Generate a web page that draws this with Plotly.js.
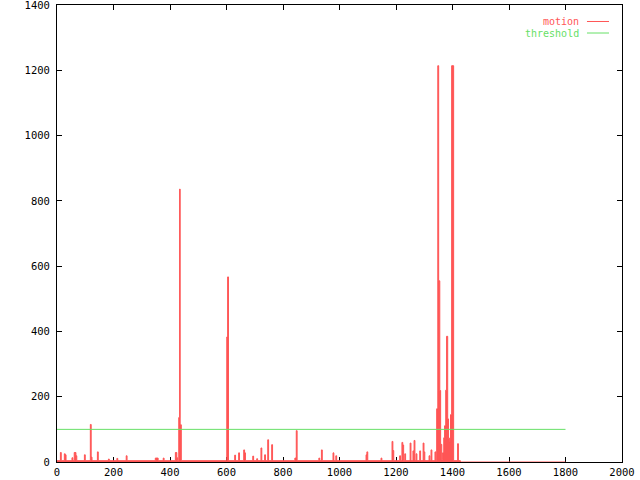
<!DOCTYPE html>
<html>
<head>
<meta charset="utf-8">
<script src="https://cdn.plot.ly/plotly-3.0.1.min.js"></script>
<style>html,body{margin:0;padding:0;background:#fff;}#chart{width:640px;height:480px;}</style>
</head>
<body>
<div id="chart"></div>
<script>
// motion: step data (frame where value starts, value)
var motionFrame = [0,12,15,26,29,32,53,56,61,67,70,97,100,118,121,124,143,146,182,185,212,215,245,248,348,358,376,379,419,424,427,431,434,436,440,601,604,607,629,632,643,646,661,664,667,693,696,707,710,722,725,735,738,746,749,760,763,842,847,850,927,930,936,939,977,980,987,990,1094,1097,1100,1147,1150,1186,1189,1192,1213,1216,1221,1224,1227,1231,1234,1250,1253,1260,1264,1267,1271,1274,1284,1287,1296,1299,1302,1317,1320,1324,1327,1338,1341,1344,1348,1351,1355,1358,1362,1365,1369,1372,1376,1379,1383,1386,1390,1393,1397,1404,1418,1421,1428,1800];
var motionValue = [4,29,4,25,22,4,13,4,29,19,4,22,4,115,15,4,31,4,9,4,11,4,19,4,12,4,12,4,29,13,4,136,836,114,4,383,567,4,21,4,28,4,37,28,4,18,4,10,4,43,4,22,4,68,4,53,4,12,96,4,12,4,37,4,28,4,19,4,22,31,4,12,4,63,35,4,19,4,60,52,4,25,4,58,4,34,66,4,25,4,34,4,58,31,4,19,4,37,4,31,4,163,1214,555,219,54,8,28,74,111,220,385,132,73,61,145,1214,4,56,4,0,0];
var thresholdFrame = [0, 1800];
var thresholdValue = [100, 100];
var xTicks = [0,200,400,600,800,1000,1200,1400,1600,1800,2000];
var yTicks = [0,200,400,600,800,1000,1200,1400];
var seriesNames = ['motion', 'threshold'];
var red = '#ff5555', green = '#66e066';

var traces = [
  {x: motionFrame, y: motionValue, type: 'scatter', mode: 'lines', line: {shape: 'hv', color: red, width: 1}, fill: 'tozeroy', fillcolor: red, name: seriesNames[0], showlegend: false, hoverinfo: 'skip'},
  {x: thresholdFrame, y: thresholdValue, type: 'scatter', mode: 'lines', line: {color: green, width: 1}, name: seriesNames[1], showlegend: false, hoverinfo: 'skip'}
];
var axisCommon = {showline: true, mirror: 'ticks', linecolor: '#000', linewidth: 1, ticks: 'inside', ticklen: 5, tickcolor: '#000', showgrid: false, zeroline: false, layer: 'below traces', ticklabeloverflow: 'allow', tickfont: {family: 'DejaVu Sans Mono', size: 10.5, color: '#000'}};
var layout = {
  width: 640, height: 480,
  margin: {l: 57, r: 18, t: 5, b: 18},
  paper_bgcolor: '#fff', plot_bgcolor: '#fff',
  showlegend: false,
  xaxis: Object.assign({}, axisCommon, {range: [0, 2000], tickvals: xTicks, ticktext: xTicks.map(String)}),
  yaxis: Object.assign({}, axisCommon, {range: [0, 1400], tickvals: yTicks, ticktext: yTicks.map(String), ticklabelstandoff: 4}),
  annotations: [
    {xref: 'paper', yref: 'paper', x: 0.925, y: 0.9639, xanchor: 'right', yanchor: 'middle', text: seriesNames[0], showarrow: false, borderpad: 0, font: {family: 'DejaVu Sans Mono', size: 10, color: red}},
    {xref: 'paper', yref: 'paper', x: 0.925, y: 0.9387, xanchor: 'right', yanchor: 'middle', text: seriesNames[1], showarrow: false, borderpad: 0, font: {family: 'DejaVu Sans Mono', size: 10, color: green}}
  ],
  shapes: [
    {type: 'line', xref: 'paper', yref: 'paper', x0: 0.938, x1: 0.977, y0: 0.9639, y1: 0.9639, line: {color: red, width: 1}},
    {type: 'line', xref: 'paper', yref: 'paper', x0: 0.938, x1: 0.977, y0: 0.9387, y1: 0.9387, line: {color: green, width: 1}}
  ]
};
Plotly.newPlot('chart', traces, layout, {staticPlot: true, displayModeBar: false});
</script>
</body>
</html>
